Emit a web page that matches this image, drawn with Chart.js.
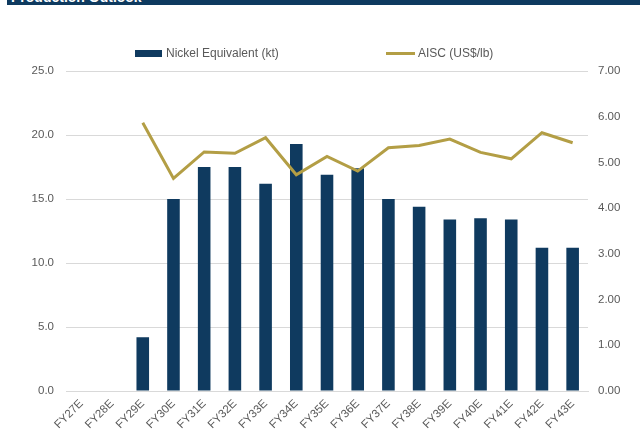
<!DOCTYPE html>
<html>
<head>
<meta charset="utf-8">
<script src="https://cdn.jsdelivr.net/npm/chart.js@4"></script>
<style>
  html, body { margin: 0; padding: 0; background: #fff; }
  #wrap { position: relative; width: 640px; height: 433px; overflow: hidden; font-family: "Liberation Sans", Arial, sans-serif; }
  #band { position: absolute; left: 7px; top: 0; width: 633px; height: 5px; background: #0E3A5F; overflow: hidden; }
  #band span { position: absolute; left: 4px; top: -11px; color: #fff; font-weight: bold; font-size: 14px; white-space: nowrap; }
  #chart { position: absolute; left: 0; top: 0; }
  .leg { position: absolute; font-size: 12px; color: #595959; white-space: nowrap; line-height: 14px; }
  .sw { position: absolute; }
</style>
</head>
<body>
<div id="wrap">
  <div id="band"><span>Production Outlook</span></div>
  <canvas id="chart" width="640" height="433"></canvas>
  <div class="sw" id="swBar" style="left:135px; top:50px; width:27px; height:7px;"></div>
  <div class="leg" id="legBar" style="left:166px; top:46px;"></div>
  <div class="sw" id="swLine" style="left:386px; top:52px; width:29px; height:3px;"></div>
  <div class="leg" id="legLine" style="left:418px; top:46px;"></div>
</div>
<script>
// Fiscal years on the category axis
const years = ['FY27E','FY28E','FY29E','FY30E','FY31E','FY32E','FY33E','FY34E','FY35E',
               'FY36E','FY37E','FY38E','FY39E','FY40E','FY41E','FY42E','FY43E'];

// Nickel equivalent production (kt)
const nickelEq = [null, null, 4.2, 15.0, 17.5, 17.5, 16.2, 19.3, 16.9,
                  17.4, 15.0, 14.4, 13.4, 13.5, 13.4, 11.2, 11.2];

// All-in sustaining cost (US$/lb)
const aisc = [null, null, 5.87, 4.65, 5.23, 5.20, 5.54, 4.73, 5.13,
              4.81, 5.32, 5.37, 5.51, 5.22, 5.08, 5.65, 5.43];

const seriesNames = ['Nickel Equivalent (kt)', 'AISC (US$/lb)'];

const barColor = '#0F3A5F';
const lineColor = '#B39E45';
const textColor = '#595959';
const gridColor = '#D9D9D9';
const tickFont = { family: '"Liberation Sans", Arial, sans-serif', size: 11.5 };

document.getElementById('swBar').style.background = barColor;
document.getElementById('swLine').style.background = lineColor;
document.getElementById('legBar').textContent = seriesNames[0];
document.getElementById('legLine').textContent = seriesNames[1];

new Chart(document.getElementById('chart'), {
  data: {
    labels: years,
    datasets: [
      {
        type: 'line',
        label: seriesNames[1],
        data: aisc,
        yAxisID: 'y1',
        borderColor: lineColor,
        borderWidth: 3,
        pointRadius: 0,
        tension: 0,
        spanGaps: false,
        order: 0
      },
      {
        type: 'bar',
        label: seriesNames[0],
        data: nickelEq,
        yAxisID: 'y',
        backgroundColor: barColor,
        borderColor: '#6F88A3',
        borderWidth: 0,
        barPercentage: 0.82,
        categoryPercentage: 0.5,
        order: 1
      }
    ]
  },
  options: {
    responsive: false,
    animation: false,
    devicePixelRatio: 1,
    layout: { padding: { top: 71, left: 0, right: 0, bottom: 0 } },
    plugins: {
      legend: { display: false },
      tooltip: { enabled: false }
    },
    scales: {
      x: {
        grid: { display: false, drawTicks: false },
        border: { display: true, color: gridColor },
        ticks: {
          color: textColor,
          font: tickFont,
          maxRotation: 45,
          minRotation: 45,
          padding: 6,
          autoSkip: false
        },
        afterFit: s => { s.height = 42; }
      },
      y: {
        position: 'left',
        min: 0,
        max: 25,
        grid: { color: gridColor, drawTicks: false },
        border: { display: false },
        ticks: {
          stepSize: 5,
          color: textColor,
          font: tickFont,
          padding: 12,
          callback: v => v.toFixed(1)
        },
        afterFit: s => { s.width = 66; }
      },
      y1: {
        position: 'right',
        min: 0,
        max: 7,
        grid: { display: false, drawTicks: false },
        border: { display: false },
        ticks: {
          stepSize: 1,
          color: textColor,
          font: tickFont,
          padding: 10,
          callback: v => v.toFixed(2)
        },
        afterFit: s => { s.width = 52; }
      }
    }
  }
});
</script>
</body>
</html>
